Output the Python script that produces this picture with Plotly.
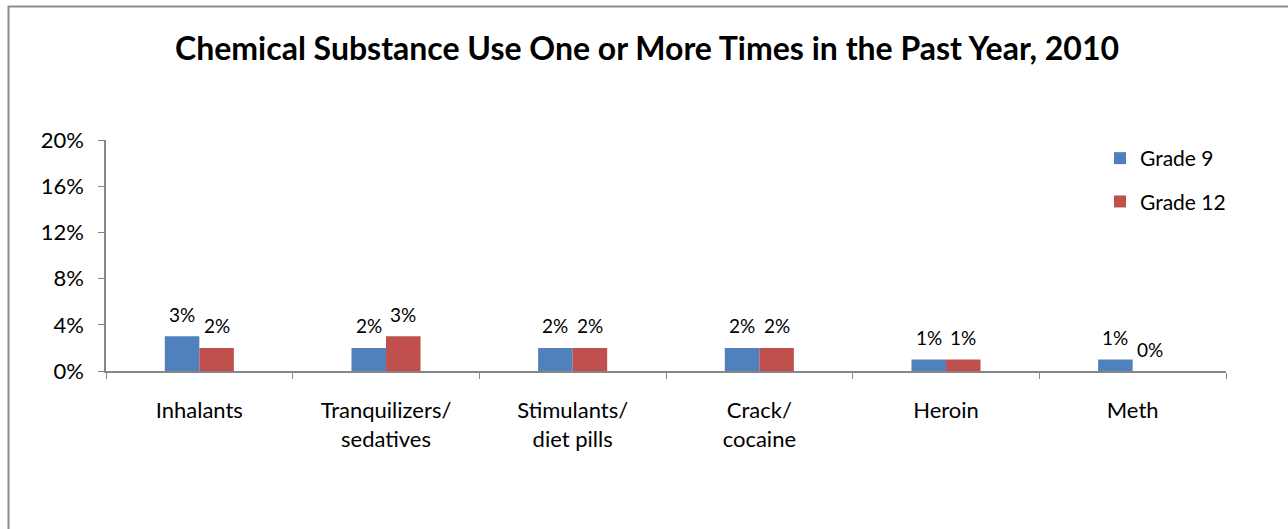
import plotly.graph_objects as go

categories = ["Inhalants", "Tranquilizers/<br>sedatives", "Stimulants/<br>diet pills",
              "Crack/<br>cocaine", "Heroin", "Meth"]
grade9 = [3, 2, 2, 2, 1, 1]
grade12 = [2, 3, 2, 2, 1, 0]
y_ticks = [0, 4, 8, 12, 16, 20]
y_tick_labels = ["0%", "4%", "8%", "12%", "16%", "20%"]

FONT = "Lato, Calibri, Carlito, sans-serif"
W, H = 1288, 529
L, R, T, B = 106, 62, 140, 158
pw, ph = W - L - R, H - T - B
BAR_PX = 34.5  # width of one bar, in pixels


def px_to_paper(x, y):
    return (x - L) / pw, (H - B - y) / ph


fig = go.Figure()
fig.add_trace(go.Bar(
    x=categories, y=grade9, name="Grade 9", legendgroup="g9",
    marker=dict(color="#4F81BD", line=dict(width=0)),
))
fig.add_trace(go.Bar(
    x=categories, y=grade12, name="Grade 12", legendgroup="g12",
    marker=dict(color="#C0504D", line=dict(width=0)),
))

# value labels above each bar
for series, shift in ((grade9, -BAR_PX / 2), (grade12, BAR_PX / 2)):
    for cat, v in zip(categories, series):
        fig.add_annotation(x=cat, y=v, xref="x", yref="y", text=f"{v}%",
                           showarrow=False, xshift=shift, yshift=22,
                           xanchor="center", yanchor="middle",
                           font=dict(family=FONT, size=19, color="#000000"))

# outer chart frame (open on the right and bottom)
x0, y0 = px_to_paper(8.5, 6.5)
x1, y1 = px_to_paper(1310, 560)
fig.add_shape(type="rect", xref="paper", yref="paper", x0=x0, y0=y1, x1=x1, y1=y0,
              line=dict(color="#8C8C8C", width=2), fillcolor="rgba(0,0,0,0)", layer="below")

tx, ty = px_to_paper(647, 47)
fig.add_annotation(text="<b>Chemical Substance Use One or More Times in the Past Year, 2010</b>",
                   xref="paper", yref="paper", x=tx, y=ty, showarrow=False,
                   xanchor="center", yanchor="middle",
                   font=dict(family=FONT, size=32, color="#000000"))

lx, ly = px_to_paper(1100, 138)
fig.update_layout(
    width=W, height=H,
    margin=dict(l=L, r=R, t=T, b=B, autoexpand=False),
    paper_bgcolor="white", plot_bgcolor="white",
    barmode="group", bargap=0.63, bargroupgap=0,
    showlegend=True,
    legend=dict(x=lx, y=ly, xanchor="left", yanchor="top", tracegroupgap=13,
                font=dict(family=FONT, size=21, color="#000000"),
                bgcolor="rgba(0,0,0,0)", itemwidth=30),
    xaxis=dict(showline=True, linecolor="#868686", linewidth=1.5,
               ticks="outside", ticklen=6, tickcolor="#868686",
               tickson="boundaries", showgrid=False, ticklabelstandoff=19,
               tickfont=dict(family=FONT, size=22, color="#000000")),
    yaxis=dict(range=[0, 20], tickvals=y_ticks, ticktext=y_tick_labels,
               showline=True, linecolor="#868686", linewidth=1.5,
               ticks="outside", ticklen=6, tickcolor="#868686",
               showgrid=False, zeroline=False, ticklabelstandoff=10,
               tickfont=dict(family=FONT, size=22, color="#000000")),
    font=dict(family=FONT),
)

fig.write_html("out.html")
